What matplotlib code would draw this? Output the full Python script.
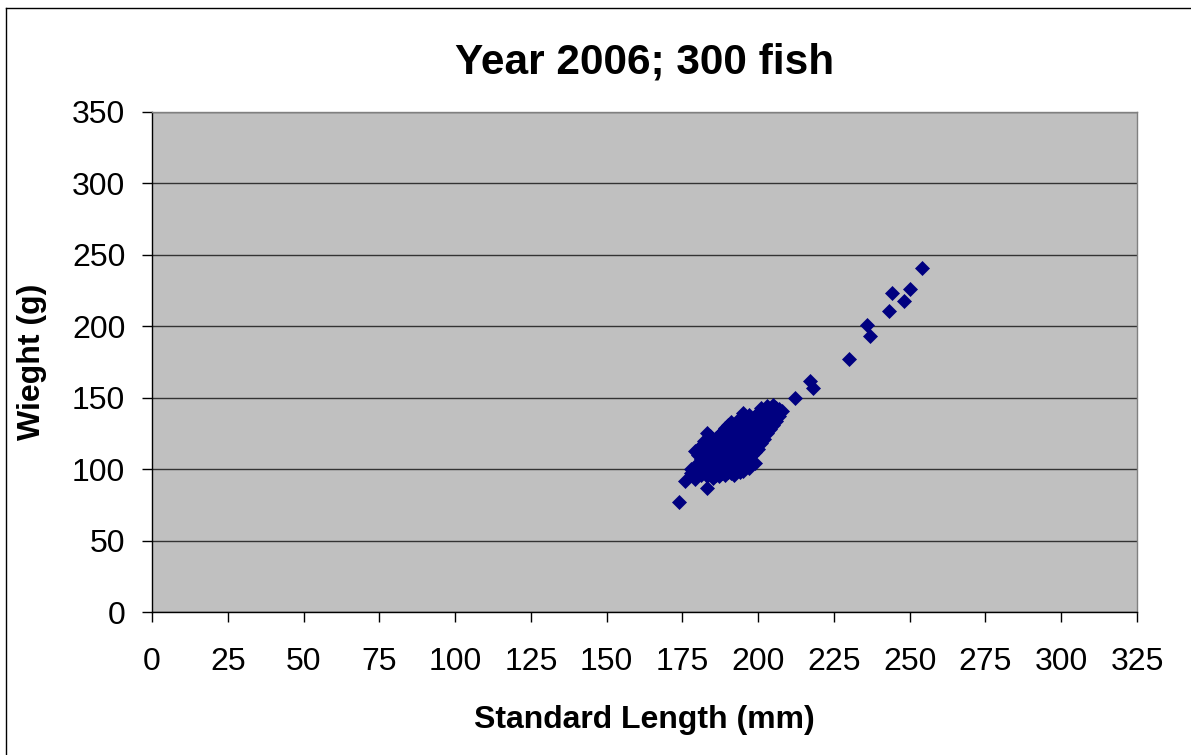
import matplotlib.pyplot as plt
from matplotlib.lines import Line2D

# Standard length (mm) and weight (g) of the 2006 sample, main cluster then the large fish
length_mm = [
    174, 176, 178, 178, 179, 179, 179,
    180, 180, 180, 180, 181, 181, 181, 181, 181,
    182, 182, 182, 182, 182,
    183, 183, 183, 183, 183, 183, 183,
    184, 184, 184, 184, 184, 184,
    185, 185, 185, 185, 185, 185,
    186, 186, 186, 186, 186, 186,
    187, 187, 187, 187, 187, 187, 187,
    188, 188, 188, 188, 188, 188, 188,
    189, 189, 189, 189, 189, 189, 189,
    190, 190, 190, 190, 190, 190, 190,
    191, 191, 191, 191, 191, 191, 191, 191,
    192, 192, 192, 192, 192, 192, 192, 192,
    193, 193, 193, 193, 193, 193, 193, 193,
    194, 194, 194, 194, 194, 194, 194, 194,
    195, 195, 195, 195, 195, 195, 195, 195, 195,
    196, 196, 196, 196, 196, 196, 196,
    197, 197, 197, 197, 197, 197, 197, 197,
    198, 198, 198, 198, 198, 198,
    199, 199, 199, 199, 199, 199, 199,
    200, 200, 200, 200, 200, 200,
    201, 201, 201, 201, 201, 201,
    202, 202, 202, 202, 202,
    203, 203, 203, 203, 203,
    204, 204, 204, 204,
    205, 205, 205, 205,
    206, 206, 206,
    207, 207,
    208,
    212, 217, 218, 230, 236, 237, 243, 244, 248, 250, 254,
]
weight_g = [
    77, 92, 97, 100, 93, 101, 113,
    98, 104, 110, 114, 96, 102, 107, 112, 116,
    99, 104, 109, 115, 120,
    87, 95, 101, 106, 111, 118, 125,
    97, 103, 108, 113, 119, 123,
    94, 99, 104, 110, 115, 121,
    96, 101, 106, 112, 117, 122,
    95, 98, 103, 108, 113, 118, 124,
    97, 100, 105, 110, 115, 120, 126,
    96, 102, 107, 112, 117, 122, 129,
    98, 104, 109, 114, 119, 124, 131,
    97, 101, 106, 111, 116, 121, 126, 133,
    96, 99, 103, 108, 113, 118, 123, 128,
    100, 105, 110, 115, 120, 125, 130, 134,
    98, 102, 107, 112, 117, 122, 127, 132,
    99, 104, 109, 114, 119, 124, 129, 135, 139,
    106, 111, 116, 121, 126, 131, 136,
    101, 108, 113, 118, 123, 128, 133, 138,
    110, 115, 120, 125, 130, 135,
    104, 112, 117, 122, 127, 132, 137,
    114, 119, 124, 129, 134, 139,
    118, 123, 128, 133, 138, 143,
    121, 126, 131, 136, 141,
    125, 130, 135, 140, 144,
    128, 133, 138, 142,
    131, 136, 141, 145,
    134, 139, 143,
    137, 142,
    141,
    150, 162, 157, 177, 201, 193, 211, 223, 218, 226, 241,
]

x_ticks = list(range(0, 326, 25))
y_ticks = list(range(0, 351, 50))

plt.rcParams['font.family'] = ['Liberation Sans', 'DejaVu Sans']

fig = plt.figure(figsize=(11.91, 7.55), dpi=100)
ax = fig.add_axes([0.1276, 0.1894, 0.8271, 0.6623])
ax.set_facecolor('#C0C0C0')

ax.plot(length_mm, weight_g, linestyle='none', marker='D', markersize=7.4,
        color='#000080', markeredgecolor='#000080', markeredgewidth=0.5, zorder=3)

ax.set_xlim(0, 325)
ax.set_ylim(0, 350)
ax.set_xticks(x_ticks)
ax.set_yticks(y_ticks)
ax.yaxis.grid(True, color='#333333', linewidth=1.0)
ax.set_axisbelow(True)

ax.tick_params(axis='both', direction='out', length=7.2, width=1, color='black', labelsize=23)
ax.tick_params(axis='x', pad=18)
ax.tick_params(axis='y', pad=12)

for side in ['left', 'bottom']:
    ax.spines[side].set_color('black')
    ax.spines[side].set_linewidth(1)
for side in ['top', 'right']:
    ax.spines[side].set_color('#808080')
    ax.spines[side].set_linewidth(1)

ax.set_title('Year 2006; 300 fish', fontsize=30.5, fontweight='bold', pad=28)
ax.set_xlabel('Standard Length (mm)', fontsize=23, fontweight='bold', labelpad=20)
ax.set_ylabel('Wieght (g)', fontsize=23, fontweight='bold', labelpad=18)

# chart border
fig.add_artist(Line2D([6 / 1191, 6 / 1191], [0, 1 - 8 / 755], transform=fig.transFigure,
                      color='black', linewidth=1))
fig.add_artist(Line2D([6 / 1191, 1], [1 - 8 / 755, 1 - 8 / 755], transform=fig.transFigure,
                      color='black', linewidth=1))

fig.savefig('out.png', dpi=100)
